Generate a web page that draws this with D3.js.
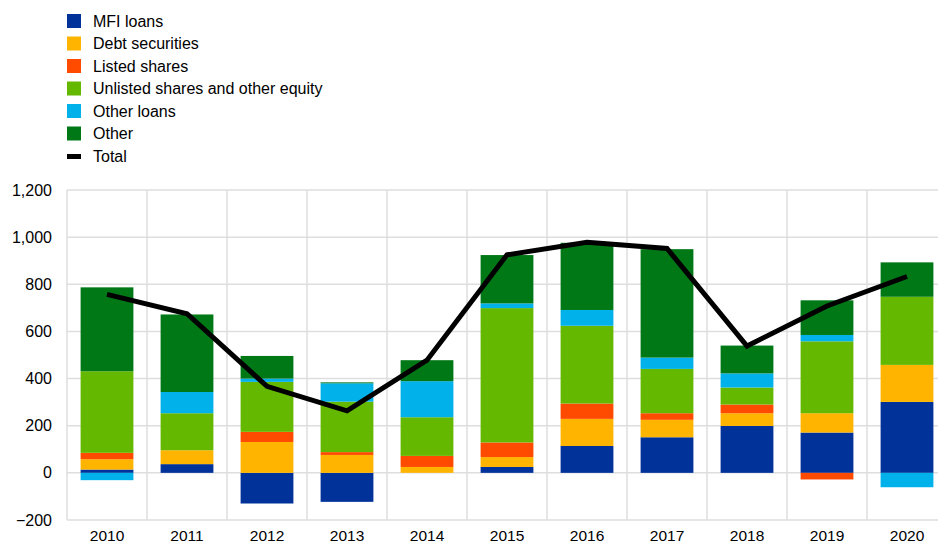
<!DOCTYPE html>
<html>
<head>
<meta charset="utf-8">
<script src="https://cdn.jsdelivr.net/npm/d3@7"></script>
<style>
  body { margin: 0; background: #fff; }
  svg { font-family: "Liberation Sans", Arial, sans-serif; }
</style>
</head>
<body>
<div id="chart"></div>
<script>
// data (EUR billions)
const years = ["2010","2011","2012","2013","2014","2015","2016","2017","2018","2019","2020"];
const mfiLoans   = [14, 37, -130, -123, 0, 25, 114, 151, 199, 171, 301];
const debtSec    = [44, 59, 131, 76, 25, 42, 115, 74, 54, 82, 157];
const listed     = [27, 0, 43, 12, 47, 62, 65, 28, 37, -28, 0];
const unlisted   = [346, 157, 212, 214, 164, 570, 330, 188, 72, 305, 289];
const otherLoans = [-31, 90, 14, 78, 153, 20, 67, 48, 60, 27, -61];
const other      = [356, 329, 96, 4, 89, 205, 285, 460, 118, 147, 146];
const total      = [757, 675, 367, 263, 478, 925, 978, 952, 538, 708, 833];
const yTicks = [-200, 0, 200, 400, 600, 800, 1000, 1200];

const seriesNames = ["MFI loans", "Debt securities", "Listed shares", "Unlisted shares and other equity", "Other loans", "Other"];
const seriesVals = [mfiLoans, debtSec, listed, unlisted, otherLoans, other];
const colors = ["#003299", "#FFB400", "#FF4B00", "#65B800", "#00B1EA", "#007816"];

const W = 938, H = 544;
const margin = {left: 67, top: 190, right: -9, bottom: 24};

const svg = d3.select("#chart").append("svg")
  .attr("width", W).attr("height", H);

// table for d3.stack
const rows = years.map((y, i) => {
  let r = {year: y};
  seriesNames.forEach((s, k) => r[s] = seriesVals[k][i]);
  return r;
});

const x = d3.scaleBand()
  .domain(years)
  .range([margin.left, W - margin.right])
  .paddingInner(0.34)
  .paddingOuter(0.17);

const y = d3.scaleLinear()
  .domain([-200, 1200])
  .range([H - margin.bottom, margin.top]);

// grid
const step = x.step();
const grid = svg.append("g");
grid.selectAll("line.h").data(yTicks).enter().append("line")
  .attr("x1", margin.left).attr("x2", W)
  .attr("y1", d => y(d)).attr("y2", d => y(d))
  .attr("stroke", "#dedede").attr("stroke-width", 1.5);
grid.selectAll("line.v").data(years).enter().append("line")
  .attr("x1", d => x(d) - (step - x.bandwidth()) / 2)
  .attr("x2", d => x(d) - (step - x.bandwidth()) / 2)
  .attr("y1", y(1200)).attr("y2", y(-200))
  .attr("stroke", "#dedede").attr("stroke-width", 1.5);

// stacked bars
const stack = d3.stack().keys(seriesNames).offset(d3.stackOffsetDiverging);
const stacked = stack(rows);

svg.append("g").selectAll("g").data(stacked).enter().append("g")
  .attr("fill", (d, i) => colors[i])
  .selectAll("rect").data(d => d).enter().append("rect")
  .attr("x", d => x(d.data.year))
  .attr("width", x.bandwidth())
  .attr("y", d => y(Math.max(d[0], d[1])))
  .attr("height", d => Math.abs(y(d[0]) - y(d[1])));

// total line
const line = d3.line()
  .x((d, i) => x(years[i]) + x.bandwidth() / 2)
  .y(d => y(d));
svg.append("path").datum(total)
  .attr("d", line)
  .attr("fill", "none")
  .attr("stroke", "#000")
  .attr("stroke-width", 5)
  .attr("stroke-linejoin", "miter");

// axes
const yAxis = d3.axisLeft(y).tickValues(yTicks).tickSize(0).tickPadding(15)
  .tickFormat(d3.format(","));
svg.append("g").attr("transform", `translate(${margin.left},0)`).call(yAxis)
  .call(g => g.select(".domain").remove())
  .selectAll("text").attr("font-size", 16).attr("fill", "#000")
  .attr("font-family", "Liberation Sans, Arial, sans-serif");

const xAxis = d3.axisBottom(x).tickSize(0).tickPadding(10);
svg.append("g").attr("transform", `translate(0,${y(-200)})`).call(xAxis)
  .call(g => g.select(".domain").remove())
  .selectAll("text").attr("font-size", 15.5).attr("fill", "#000")
  .attr("font-family", "Liberation Sans, Arial, sans-serif");

// legend
const legendNames = seriesNames.concat(["Total"]);
const leg = svg.append("g").attr("transform", "translate(67,14)");
const item = leg.selectAll("g").data(legendNames).enter().append("g")
  .attr("transform", (d, i) => `translate(0,${i * 22.5})`);
item.filter((d, i) => i < 6).append("rect")
  .attr("width", 14).attr("height", 14)
  .attr("fill", (d, i) => colors[i]);
item.filter(d => d === "Total").append("rect")
  .attr("y", 5).attr("width", 14).attr("height", 5)
  .attr("fill", "#000");
item.append("text")
  .attr("x", 26).attr("y", 12.5)
  .attr("font-size", 16)
  .attr("fill", "#000")
  .text(d => d);
</script>
</body>
</html>
